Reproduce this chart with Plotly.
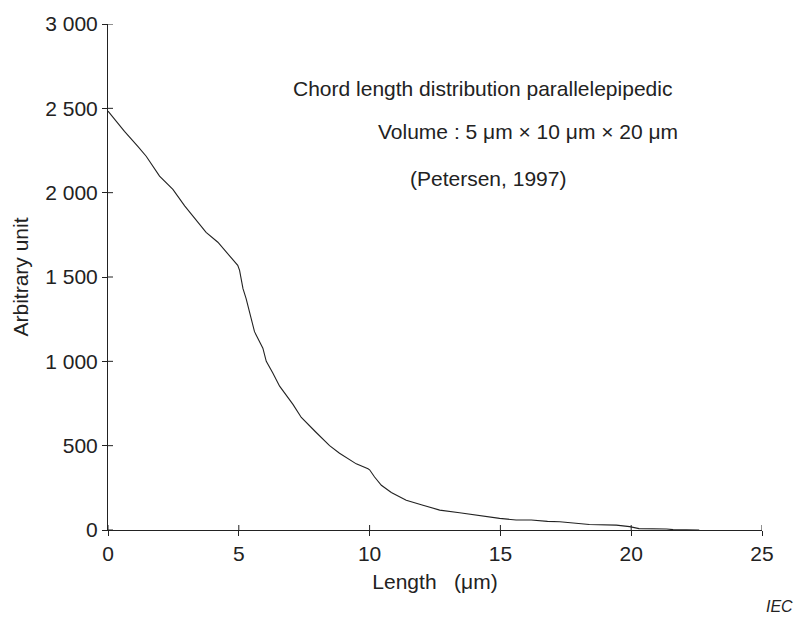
import plotly.graph_objects as go

# Data
length_um = [0.0, 0.63, 1.14, 1.46, 1.97, 2.48, 2.93, 3.5, 3.75, 4.2, 4.52, 4.9, 4.96, 5.03,
             5.16, 5.28, 5.6, 5.92, 6.05, 6.3, 6.56, 7.07, 7.39, 7.96, 8.47, 8.85, 9.49, 9.94,
             10.0, 10.19, 10.45, 10.83, 11.4, 12.04, 12.68, 13.44, 14.2, 14.97, 15.6, 16.18,
             16.8, 17.27, 18.4, 19.43, 19.94, 20.3, 21.35, 21.6, 22.6]
arbitrary = [2484, 2363, 2275, 2216, 2098, 2019, 1922, 1814, 1765, 1706, 1647, 1578, 1569, 1539,
             1431, 1372, 1176, 1078, 1000, 931, 853, 745, 667, 578, 500, 455, 392, 363,
             357, 314, 265, 222, 176, 147, 118, 102, 84, 69, 59, 59,
             51, 49, 33, 29, 20, 8, 6, 2, 0]

x_ticks = [0, 5, 10, 15, 20, 25]
y_ticks = [0, 500, 1000, 1500, 2000, 2500, 3000]
y_tick_text = ["0", "500", "1 000", "1 500", "2 000", "2 500", "3 000"]

FONT = "Liberation Sans, Arial, sans-serif"
INK = "#222222"

fig = go.Figure()
fig.add_trace(go.Scatter(x=length_um, y=arbitrary, mode="lines",
                         line=dict(color=INK, width=1.1), showlegend=False,
                         hoverinfo="skip"))

shapes = []
for xv in x_ticks:
    shapes.append(dict(type="line", xref="x", yref="y", ysizemode="pixel", yanchor=0,
                       x0=xv, x1=xv, y0=0, y1=5, line=dict(color=INK, width=1)))
for yv in y_ticks:
    shapes.append(dict(type="line", xref="x", yref="y", xsizemode="pixel", xanchor=0,
                       x0=0, x1=5, y0=yv, y1=yv, line=dict(color=INK, width=1)))

annotations = [
    dict(text="Chord length distribution parallelepipedic", x=291, y=85),
    dict(text="Volume : 5 μm × 10 μm × 20 μm", x=376, y=128),
    dict(text="(Petersen, 1997)", x=408, y=176),
]
ann = []
for a in annotations:
    ann.append(dict(text=a["text"], xref="paper", yref="paper",
                    x=(a["x"] - 108) / 654, y=(530 - a["y"]) / 510,
                    xanchor="left", yanchor="middle", showarrow=False,
                    font=dict(family=FONT, size=21, color=INK)))
ann.append(dict(text="<i>IEC</i>", xref="paper", yref="paper",
                x=(795 - 108) / 654, y=(530 - 607) / 510, xanchor="right", yanchor="middle",
                showarrow=False, font=dict(family=FONT, size=16, color=INK)))

fig.update_layout(
    width=797, height=617,
    margin=dict(l=108, r=35, t=20, b=87),
    paper_bgcolor="white", plot_bgcolor="white",
    font=dict(family=FONT, size=21, color=INK),
    shapes=shapes, annotations=ann,
    xaxis=dict(range=[0, 25], tickvals=x_ticks, ticks="outside", ticklen=5,
               tickcolor=INK, tickwidth=1, showline=True, linecolor=INK, linewidth=1,
               showgrid=False, zeroline=False, tickfont=dict(size=21),
               title=dict(text="Length\u00a0\u00a0\u00a0(μm)", font=dict(size=21), standoff=10)),
    yaxis=dict(range=[0, 3000], tickvals=y_ticks, ticktext=y_tick_text, ticks="outside",
               ticklen=5, tickcolor=INK, tickwidth=1, showline=True, linecolor=INK,
               linewidth=1, showgrid=False, zeroline=False, tickfont=dict(size=21),
               title=dict(text="Arbitrary unit", font=dict(size=21), standoff=10)),
)

fig.write_html("out.html")
